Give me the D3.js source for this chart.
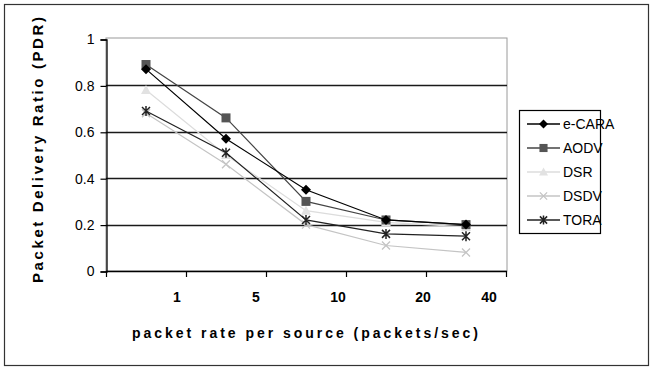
<!DOCTYPE html>
<html>
<head>
<meta charset="utf-8">
<script src="https://cdn.jsdelivr.net/npm/d3@7"></script>
<style>
  html, body { margin: 0; padding: 0; background: #fff; }
  svg { display: block; font-family: Arial, "Liberation Sans", sans-serif; }
</style>
</head>
<body>
<svg id="chart" width="654" height="371"></svg>
<script>
// Packet rate per source (packets/sec)
const categories = ["1", "5", "10", "20", "40"];
const yTicks = [0, 0.2, 0.4, 0.6, 0.8, 1];

// Packet delivery ratio per protocol
const ecara = [0.87, 0.57, 0.35, 0.22, 0.20];
const aodv  = [0.89, 0.66, 0.30, 0.22, 0.20];
const dsr   = [0.78, 0.50, 0.26, 0.21, 0.19];
const dsdv  = [0.68, 0.46, 0.20, 0.11, 0.08];
const tora  = [0.69, 0.51, 0.22, 0.16, 0.15];

const series = [
  { name: "e-CARA", values: ecara, stroke: "#000",    fill: "#000",    marker: "diamond" },
  { name: "AODV",   values: aodv,  stroke: "#444",    fill: "#555",    marker: "square" },
  { name: "DSR",    values: dsr,   stroke: "#dcdcdc", fill: "#e2e2e2", marker: "triangle" },
  { name: "DSDV",   values: dsdv,  stroke: "#c4c4c4", fill: "#c4c4c4", marker: "cross" },
  { name: "TORA",   values: tora,  stroke: "#222",    fill: "#222",    marker: "asterisk" }
];

const svg = d3.select("#chart");

// outer chart frame
svg.append("rect")
  .attr("x", 4.5).attr("y", 4.5).attr("width", 644).attr("height", 361)
  .attr("fill", "#fff").attr("stroke", "#333").attr("stroke-width", 1.2);

const plot = { left: 106, right: 507, top: 39, bottom: 271 };

const x = d3.scaleBand().domain(categories).range([plot.left, plot.right - 1]);
const y = d3.scaleLinear().domain([0, 1]).range([plot.bottom, plot.top]);
const cx = c => x(c) + x.bandwidth() / 2;

// plot area border
svg.append("rect")
  .attr("x", plot.left).attr("y", plot.top - 1)
  .attr("width", plot.right - plot.left).attr("height", plot.bottom - plot.top + 1)
  .attr("fill", "none").attr("stroke", "#9a9a9a").attr("stroke-width", 1);

// horizontal gridlines
svg.append("g")
  .selectAll("line")
  .data(yTicks.filter(t => t > 0 && t < 1))
  .join("line")
  .attr("x1", plot.left).attr("x2", plot.right)
  .attr("y1", d => Math.round(y(d)) + 0.5).attr("y2", d => Math.round(y(d)) + 0.5)
  .attr("stroke", "#1a1a1a").attr("stroke-width", 1.4);

// y axis
const yAxis = d3.axisLeft(y).tickValues(yTicks).tickSize(6).tickPadding(6)
  .tickFormat(d => d === 0 || d === 1 ? String(d) : d3.format(".1f")(d));
const gy = svg.append("g").attr("transform", `translate(${plot.left + 0.5},0.5)`).call(yAxis);
gy.select(".domain").attr("stroke", "#000").attr("stroke-width", 1.3);
gy.selectAll(".tick line").attr("stroke", "#000").attr("stroke-width", 1.2);
gy.selectAll(".tick text").attr("font-size", 14).attr("fill", "#000")
  .attr("font-family", "Arial, 'Liberation Sans', sans-serif");

// x axis: tick marks at category boundaries, labels beside the boundaries
const bounds = [plot.left].concat(categories.map(c => x(c) + x.bandwidth()));
const gx = svg.append("g");
gx.append("line")
  .attr("x1", plot.left).attr("x2", plot.right)
  .attr("y1", plot.bottom + 0.5).attr("y2", plot.bottom + 0.5)
  .attr("stroke", "#000").attr("stroke-width", 1.3);
gx.selectAll("line.tick")
  .data(bounds)
  .join("line").attr("class", "tick")
  .attr("x1", d => Math.round(d) + 0.5).attr("x2", d => Math.round(d) + 0.5)
  .attr("y1", plot.bottom).attr("y2", plot.bottom + 6)
  .attr("stroke", "#000").attr("stroke-width", 1.2);
const labelShift = [-9, -10, -8, -3, -17];
gx.selectAll("text")
  .data(categories)
  .join("text")
  .attr("x", (d, i) => x(d) + x.bandwidth() + labelShift[i])
  .attr("y", 302)
  .attr("text-anchor", "middle")
  .attr("font-size", 14).attr("font-weight", "bold").attr("fill", "#000")
  .text(d => d);

// axis titles
svg.append("text")
  .attr("x", 305).attr("y", 338)
  .attr("text-anchor", "middle")
  .attr("font-size", 14).attr("font-weight", "bold").attr("fill", "#000")
  .attr("textLength", 346).attr("lengthAdjust", "spacing")
  .text("packet rate per source (packets/sec)");

svg.append("text")
  .attr("transform", "translate(43,150) rotate(-90)")
  .attr("text-anchor", "middle")
  .attr("font-size", 15).attr("font-weight", "bold").attr("fill", "#000")
  .attr("textLength", 266).attr("lengthAdjust", "spacing")
  .text("Packet Delivery Ratio (PDR)");

// marker drawing
function drawMarker(g, s, px, py, scale = 1) {
  const k = scale;
  switch (s.marker) {
    case "diamond":
      g.append("path")
        .attr("d", `M${px},${py - 5 * k}L${px + 5 * k},${py}L${px},${py + 5 * k}L${px - 5 * k},${py}Z`)
        .attr("fill", s.fill);
      break;
    case "square":
      g.append("rect")
        .attr("x", px - 4.5 * k).attr("y", py - 4.5 * k)
        .attr("width", 9 * k).attr("height", 9 * k)
        .attr("fill", s.fill);
      break;
    case "triangle":
      g.append("path")
        .attr("d", `M${px},${py - 5 * k}L${px + 5 * k},${py + 4 * k}L${px - 5 * k},${py + 4 * k}Z`)
        .attr("fill", s.fill);
      break;
    case "cross":
      g.append("path")
        .attr("d", `M${px - 4 * k},${py - 4 * k}L${px + 4 * k},${py + 4 * k}M${px + 4 * k},${py - 4 * k}L${px - 4 * k},${py + 4 * k}`)
        .attr("stroke", s.fill).attr("stroke-width", 1.3).attr("fill", "none");
      break;
    case "asterisk":
      g.append("path")
        .attr("d", `M${px - 4 * k},${py - 4 * k}L${px + 4 * k},${py + 4 * k}M${px + 4 * k},${py - 4 * k}L${px - 4 * k},${py + 4 * k}M${px},${py - 5 * k}L${px},${py + 5 * k}`)
        .attr("stroke", s.fill).attr("stroke-width", 1.5).attr("fill", "none");
      break;
  }
}

// series lines and markers (lightest drawn first)
const line = d3.line().x((d, i) => cx(categories[i])).y(d => y(d));
const drawOrder = [series[3], series[2], series[4], series[1], series[0]];
drawOrder.forEach(s => {
  const g = svg.append("g");
  g.append("path")
    .attr("d", line(s.values))
    .attr("fill", "none")
    .attr("stroke", s.stroke)
    .attr("stroke-width", 1.2);
  s.values.forEach((v, i) => drawMarker(g, s, cx(categories[i]), y(v)));
});

// legend
const legend = svg.append("g");
legend.append("rect")
  .attr("x", 519.5).attr("y", 110.5).attr("width", 81).attr("height", 123)
  .attr("fill", "#fff").attr("stroke", "#000").attr("stroke-width", 1.2);
series.forEach((s, i) => {
  const ly = 124 + i * 24;
  const g = legend.append("g");
  g.append("line")
    .attr("x1", 527).attr("x2", 560).attr("y1", ly).attr("y2", ly)
    .attr("stroke", s.stroke).attr("stroke-width", 1.3);
  drawMarker(g, s, 543.5, ly, 0.9);
  g.append("text")
    .attr("x", 563).attr("y", ly + 5)
    .attr("font-size", 14).attr("fill", "#000")
    .text(s.name);
});
</script>
</body>
</html>
